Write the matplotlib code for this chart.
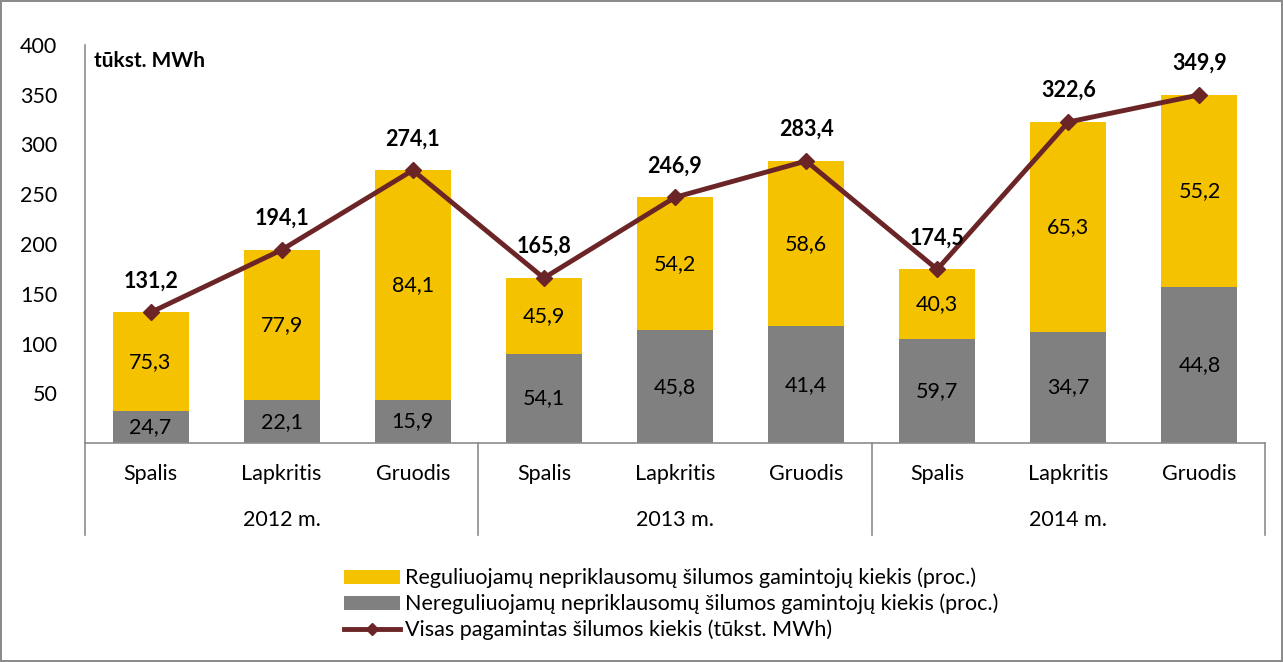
import numpy as np
import matplotlib.pyplot as plt

plt.rcParams['font.family'] = ['Lato', 'DejaVu Sans']

months = ["Spalis", "Lapkritis", "Gruodis"] * 3
years = ["2012 m.", "2013 m.", "2014 m."]
total = [131.2, 194.1, 274.1, 165.8, 246.9, 283.4, 174.5, 322.6, 349.9]
reg_pct = [75.3, 77.9, 84.1, 45.9, 54.2, 58.6, 40.3, 65.3, 55.2]
nereg_pct = [24.7, 22.1, 15.9, 54.1, 45.8, 41.4, 59.7, 34.7, 44.8]

yellow = "#F5C200"
grey = "#808080"
maroon = "#6B2526"
fs = 15.5

fig = plt.figure(figsize=(12.83, 6.62), dpi=100)
fig.patch.set_edgecolor("#8c8c8c")
fig.patch.set_linewidth(1.5)
W, H = 1283, 662
ax = fig.add_axes([85 / W, 1 - 443 / H, 1180 / W, (443 - 45) / H])

x = np.arange(len(total))
tot = np.array(total)
grey_h = tot * np.array(nereg_pct) / 100
yel_h = tot - grey_h

b1 = ax.bar(x, yel_h, bottom=grey_h, width=0.58, color=yellow,
            label="Reguliuojamų nepriklausomų šilumos gamintojų kiekis (proc.)")
b2 = ax.bar(x, grey_h, width=0.58, color=grey,
            label="Nereguliuojamų nepriklausomų šilumos gamintojų kiekis (proc.)")
l1, = ax.plot(x, tot, color=maroon, lw=3.5, marker="D", ms=8,
              label="Visas pagamintas šilumos kiekis (tūkst. MWh)")

for i in range(len(x)):
    ax.text(x[i], grey_h[i] / 2, f"{nereg_pct[i]:.1f}".replace(".", ","),
            ha="center", va="center", fontsize=fs)
    ax.text(x[i], grey_h[i] + yel_h[i] / 2, f"{reg_pct[i]:.1f}".replace(".", ","),
            ha="center", va="center", fontsize=fs)
    ax.annotate(f"{total[i]:.1f}".replace(".", ","), (x[i], tot[i]),
                xytext=(0, 15), textcoords="offset points",
                ha="center", va="bottom", fontsize=fs, fontweight="bold")

ax.set_xlim(-0.5, len(x) - 0.5)
ax.set_ylim(0, 400)
ax.set_yticks(range(50, 401, 50))
ax.tick_params(axis="y", length=0, labelsize=fs, pad=20)
ax.set_xticks([])
for s in ["top", "right"]:
    ax.spines[s].set_visible(False)
for s in ["left", "bottom"]:
    ax.spines[s].set_color("#8c8c8c")
    ax.spines[s].set_linewidth(1.2)

ax.text(0.008, 0.985, "tūkst. MWh", transform=ax.transAxes, ha="left",
        va="top", fontsize=fs - 0.5, fontweight="bold")

# category axis labels
trans = ax.get_xaxis_transform()
for i, m in enumerate(months):
    ax.text(x[i], -31 / 398, m, transform=trans, ha="center", va="center", fontsize=fs)
for j, yname in enumerate(years):
    ax.text(3 * j + 1, -77 / 398, yname, transform=trans, ha="center", va="center", fontsize=fs)
for b in [-0.5, 2.5, 5.5, 8.5]:
    ax.plot([b, b], [0, -92 / 398], transform=trans, color="#8c8c8c", lw=1.2, clip_on=False)

leg_line = plt.Line2D([], [], color=maroon, lw=3.5, marker="D", ms=6,
                      label=l1.get_label())
fig.legend(handles=[b1, b2, leg_line], loc="center", bbox_to_anchor=(671 / W, 1 - 604 / H),
           frameon=False, fontsize=fs, handlelength=2.6, handleheight=0.6,
           handletextpad=0.25, labelspacing=0.25, borderpad=0)

fig.savefig("out.png", dpi=100, edgecolor=fig.get_edgecolor())
